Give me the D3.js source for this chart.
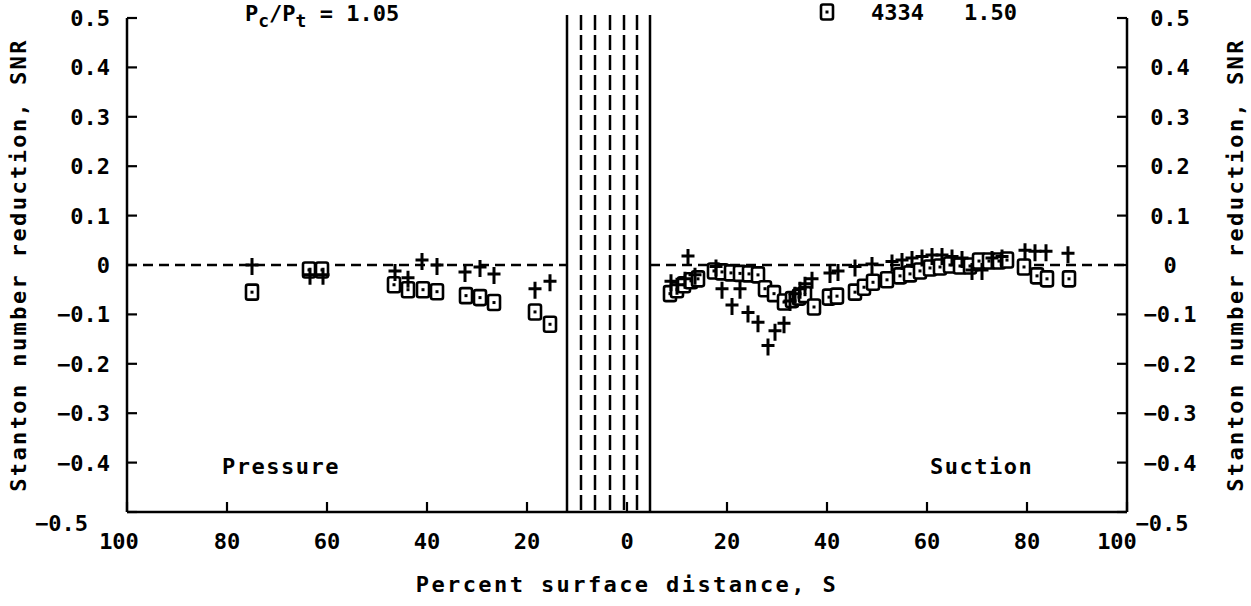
<!DOCTYPE html>
<html>
<head>
<meta charset="utf-8">
<script src="https://cdn.jsdelivr.net/npm/d3@7"></script>
<style>
  html, body { margin: 0; padding: 0; background: #fff; }
  svg { display: block; }
  text { font-family: "DejaVu Sans Mono", monospace; font-weight: bold; fill: #000; }
</style>
</head>
<body>
<svg id="chart" width="1251" height="606"></svg>
<script>
// ---------------- data ----------------
// Pressure side (percent surface distance S, SNR)
const pressureSquareS   = [75, 63.6, 61, 46.6, 43.8, 40.8, 38, 32.2, 29.4, 26.6, 18.4, 15.4];
const pressureSquareSNR = [-0.055, -0.01, -0.01, -0.04, -0.05, -0.05, -0.054, -0.062, -0.066, -0.076, -0.095, -0.12];
const pressureCrossS    = [75, 63.4, 60.8, 46.4, 43.8, 41, 38, 32.4, 29.4, 26.6, 18.4, 15.4];
const pressureCrossSNR  = [-0.002, -0.022, -0.022, -0.014, -0.028, 0.008, -0.002, -0.016, -0.006, -0.02, -0.05, -0.035];
// Suction side
const suctionSquareS   = [8.6, 10, 11.4, 12.8, 14.2, 17.4, 19, 20.8, 22.6, 24.4, 26.2, 27.6, 29.4, 31.4, 33, 34.4, 35.6, 37.4,
                          40.4, 42, 45.6, 47.4, 49.2, 52, 54.6, 56.6, 58.6, 60.6, 62.6, 64.6, 66.6, 68.6, 70.4, 72.4, 74.4, 76,
                          79.4, 82, 84, 88.4];
const suctionSquareSNR = [-0.058, -0.05, -0.04, -0.032, -0.028, -0.012, -0.014, -0.016, -0.017, -0.018, -0.02, -0.048, -0.058, -0.075, -0.07, -0.065, -0.06, -0.085,
                          -0.065, -0.063, -0.055, -0.045, -0.035, -0.03, -0.022, -0.018, -0.012, -0.006, -0.004, 0.0, -0.002, -0.002, 0.008, 0.008, 0.008, 0.01,
                          -0.004, -0.022, -0.028, -0.028];
const suctionCrossS    = [8.8, 10, 11.6, 12.2, 13.6, 17.8, 19, 21, 22.6, 24.2, 26.2, 28.2, 29.6, 31.4, 32.6, 33.6, 34.6, 35.6, 37,
                          40.6, 42.2, 45.6, 49, 53, 55, 57, 59, 61, 63, 65, 67, 69, 71, 73, 75, 79.6, 81.6, 83.8, 88.2];
const suctionCrossSNR  = [-0.035, -0.042, -0.03, 0.016, -0.022, -0.005, -0.05, -0.083, -0.05, -0.098, -0.118, -0.165, -0.135, -0.12, -0.075, -0.06, -0.05, -0.04, -0.03,
                          -0.018, -0.014, -0.005, 0.0, 0.005, 0.008, 0.012, 0.015, 0.018, 0.018, 0.015, 0.012, -0.012, -0.012, 0.012, 0.015, 0.028, 0.026, 0.026, 0.022];

// Leading-edge region lines (signed S: negative = pressure side)
const leSolid  = [-12, 4.6];
const leDashed = [-9.2, -6.4, -3.4, -0.6, 2];

const xTicks = [-100, -80, -60, -40, -20, 0, 20, 40, 60, 80, 100];
const yTicks = [0.5, 0.4, 0.3, 0.2, 0.1, 0, -0.1, -0.2, -0.3, -0.4, -0.5];

// ---------------- drawing ----------------
const svg = d3.select("#chart");
const L = 127, R = 1127, T = 18, B = 512;
const x = d3.scaleLinear().domain([-100, 100]).range([L, R]);
const y = d3.scaleLinear().domain([-0.5, 0.5]).range([B, T]);

const fmtY = v => v === 0 ? "0" : (v < 0 ? "\u2212" : "") + Math.abs(v).toFixed(1);

// zero dashed line (split by leading-edge band)
const zeroSegs = [[-100, leSolid[0]], [leSolid[1], 100]];
svg.selectAll(".zero").data(zeroSegs).enter().append("line")
  .attr("x1", d => x(d[0])).attr("x2", d => x(d[1]))
  .attr("y1", y(0)).attr("y2", y(0))
  .attr("stroke", "#000").attr("stroke-width", 2.4).attr("stroke-dasharray", "10,6");

// band lines
svg.selectAll(".les").data(leSolid).enter().append("line")
  .attr("x1", d => x(d)).attr("x2", d => x(d)).attr("y1", T - 3).attr("y2", B)
  .attr("stroke", "#000").attr("stroke-width", 2.5);
svg.selectAll(".led").data(leDashed).enter().append("line")
  .attr("x1", d => x(d)).attr("x2", d => x(d)).attr("y1", T - 3).attr("y2", B)
  .attr("stroke", "#000").attr("stroke-width", 2.5).attr("stroke-dasharray", "15,5");

// axes frame (left, right, bottom)
const axG = svg.append("g");
axG.append("line").attr("x1", L).attr("x2", L).attr("y1", T).attr("y2", B).attr("stroke", "#000").attr("stroke-width", 2.5);
axG.append("line").attr("x1", R).attr("x2", R).attr("y1", T).attr("y2", B).attr("stroke", "#000").attr("stroke-width", 2.5);
axG.append("line").attr("x1", L).attr("x2", R).attr("y1", B).attr("y2", B).attr("stroke", "#000").attr("stroke-width", 2.5);

// y ticks
axG.selectAll(".ytl").data(yTicks).enter().append("line")
  .attr("x1", L).attr("x2", L + 10).attr("y1", d => y(d)).attr("y2", d => y(d))
  .attr("stroke", "#000").attr("stroke-width", 2.2);
axG.selectAll(".ytr").data(yTicks).enter().append("line")
  .attr("x1", R - 10).attr("x2", R).attr("y1", d => y(d)).attr("y2", d => y(d))
  .attr("stroke", "#000").attr("stroke-width", 2.2);
// x ticks
axG.selectAll(".xt").data(xTicks).enter().append("line")
  .attr("x1", d => x(d)).attr("x2", d => x(d)).attr("y1", B - 10).attr("y2", B)
  .attr("stroke", "#000").attr("stroke-width", 2.2);

// y labels
svg.selectAll(".yll").data(yTicks).enter().append("text")
  .attr("x", d => d === -0.5 ? 88 : 110)
  .attr("y", d => (d === -0.5 ? y(d) + 11 : y(d)) + 8)
  .attr("text-anchor", "end").attr("font-size", 22)
  .text(fmtY);
svg.selectAll(".ylr").data(yTicks).enter().append("text")
  .attr("x", d => d === -0.5 ? 1162 : 1170)
  .attr("y", d => (d === -0.5 ? y(d) + 11 : y(d)) + 8)
  .attr("text-anchor", "middle").attr("font-size", 22)
  .text(fmtY);
// x labels
svg.selectAll(".xl").data(xTicks).enter().append("text")
  .attr("x", d => x(d) + (d === -100 ? -8 : d === 100 ? -10 : 0))
  .attr("y", B + 37)
  .attr("text-anchor", "middle").attr("font-size", 22)
  .text(d => Math.abs(d));

// axis titles
svg.append("text").attr("x", x(0)).attr("y", 592).attr("text-anchor", "middle")
  .attr("font-size", 22).attr("letter-spacing", 2.4).text("Percent surface distance, S");
svg.append("text").attr("transform", "translate(26,265) rotate(-90)").attr("text-anchor", "middle")
  .attr("font-size", 22).attr("letter-spacing", 2.4).text("Stanton number reduction, SNR");
svg.append("text").attr("transform", "translate(1243,265) rotate(-90)").attr("text-anchor", "middle")
  .attr("font-size", 22).attr("letter-spacing", 2.4).text("Stanton number reduction, SNR");

// annotations
const pc = svg.append("text").attr("x", 245).attr("y", 21).attr("font-size", 22);
pc.append("tspan").text("P");
pc.append("tspan").attr("font-size", 18).attr("dy", 6).text("c");
pc.append("tspan").attr("dy", -6).text("/P");
pc.append("tspan").attr("font-size", 18).attr("dy", 6).text("t");
pc.append("tspan").attr("dy", -6).text(" = 1.05");

svg.append("text").attr("x", 222).attr("y", 474).attr("font-size", 22).attr("letter-spacing", 1.5).text("Pressure");
svg.append("text").attr("x", 930).attr("y", 474).attr("font-size", 22).attr("letter-spacing", 1.5).text("Suction");

// markers
function drawSquare(g, cx, cy) {
  g.append("rect").attr("x", cx - 6).attr("y", cy - 7.5).attr("width", 12).attr("height", 15)
    .attr("rx", 2).attr("fill", "#fff").attr("stroke", "#000").attr("stroke-width", 2.6);
  g.append("rect").attr("x", cx - 1.5).attr("y", cy - 1.5).attr("width", 3).attr("height", 3).attr("fill", "#000");
}
function drawCross(g, cx, cy) {
  g.append("path").attr("d", `M${cx - 6.5},${cy - 1}H${cx + 6.5}M${cx},${cy - 8}V${cy + 9}`)
    .attr("stroke", "#000").attr("stroke-width", 3).attr("fill", "none");
}

const sqG = svg.append("g"), crG = svg.append("g");
pressureSquareS.forEach((s, i) => drawSquare(sqG, x(-s), y(pressureSquareSNR[i])));
suctionSquareS.forEach((s, i) => drawSquare(sqG, x(s), y(suctionSquareSNR[i])));
pressureCrossS.forEach((s, i) => drawCross(crG, x(-s), y(pressureCrossSNR[i])));
suctionCrossS.forEach((s, i) => drawCross(crG, x(s), y(suctionCrossSNR[i])));

// legend (partial, top right)
const lg = svg.append("g");
drawSquare(lg, 827, 12);
svg.append("text").attr("x", 871).attr("y", 20).attr("font-size", 22).text("4334");
svg.append("text").attr("x", 964).attr("y", 20).attr("font-size", 22).text("1.50");
</script>
</body>
</html>
